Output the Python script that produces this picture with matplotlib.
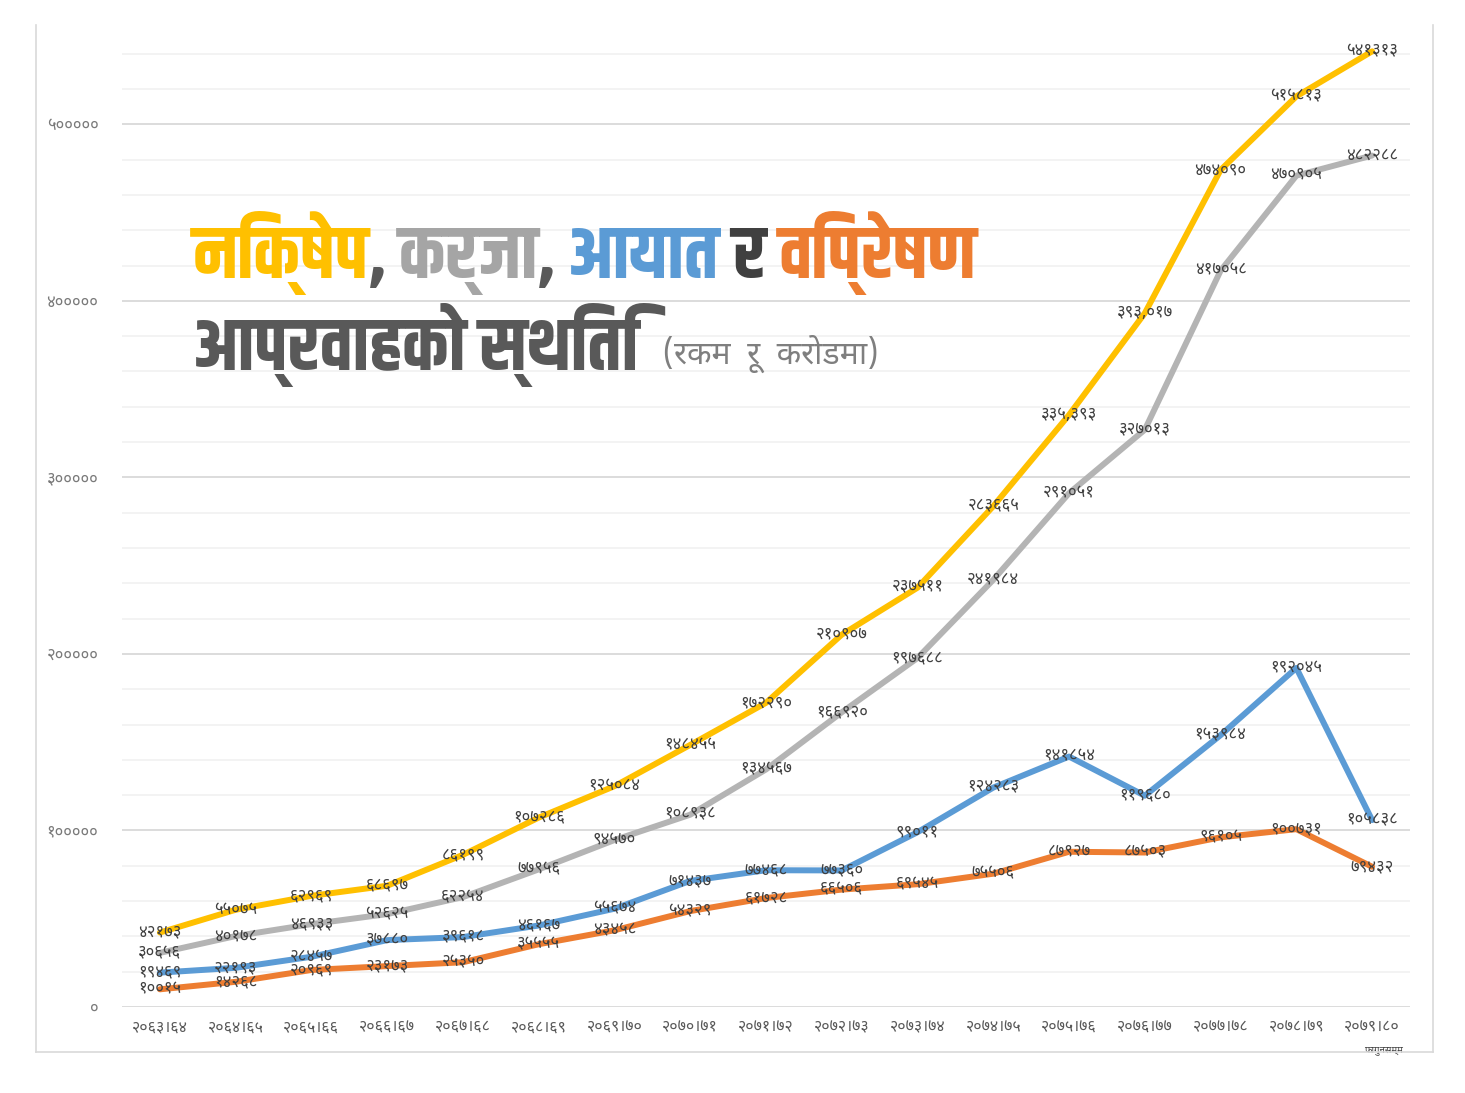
import matplotlib
matplotlib.use("Agg")
import matplotlib.pyplot as plt
from matplotlib.ticker import MultipleLocator, FixedLocator

# ---------------- data ----------------
years = ["२०६३।६४", "२०६४।६५", "२०६५।६६", "२०६६।६७", "२०६७।६८", "२०६८।६९",
         "२०६९।७०", "२०७०।७१", "२०७१।७२", "२०७२।७३", "२०७३।७४", "२०७४।७५",
         "२०७५।७६", "२०७६।७७", "२०७७।७८", "२०७८।७९", "२०७९।८०"]
last_note = "फागुनसम्म"

deposits = [42173, 55075, 62969, 68697, 86199, 107286, 125084, 148455, 172290,
            210907, 237511, 283665, 335393, 393017, 474090, 515813, 541313]
loans = [30656, 40178, 46933, 52625, 62254, 77956, 94570, 108938, 134567,
         166920, 197688, 241984, 291051, 327013, 417058, 470905, 482288]
imports = [19469, 22193, 28457, 37880, 39618, 46167, 55674, 71437, 77468,
           77360, 99011, 124283, 141854, 119680, 153984, 192045, 105838]
remittance = [10015, 14268, 20969, 23173, 25350, 35555, 43458, 54329, 61728,
              66506, 69545, 75506, 87927, 87503, 96105, 100731, 79432]
yticks = [0, 100000, 200000, 300000, 400000, 500000]
# labels shown with thousands separator in the original
comma_labels = {("deposits", 12), ("deposits", 13)}

series = [("deposits", deposits, "#FFC000"),
          ("loans", loans, "#B4B4B4"),
          ("imports", imports, "#5B9BD5"),
          ("remittance", remittance, "#ED7D31")]

DEV = str.maketrans("0123456789", "०१२३४५६७८९")
def dev(n, comma=False):
    s = f"{n:,}" if comma else f"{n}"
    return s.translate(DEV)

DEVA = ["Noto Sans Devanagari", "Mukta", "Annapurna SIL", "FreeSans", "DejaVu Sans"]
TITLE = ["Khand", "Teko", "FreeSans", "DejaVu Sans"]

W, H = 1465, 1093
fig = plt.figure(figsize=(W / 100, H / 100), dpi=100)
fig.patch.set_facecolor("white")

def fx(px): return px / W
def fy(py): return 1 - py / H

# outer frame (left, bottom, right)
fig.add_artist(plt.Line2D([fx(36), fx(36)], [fy(25), fy(1052)], color="#D9D9D9", lw=1.2))
fig.add_artist(plt.Line2D([fx(36), fx(1433)], [fy(1052), fy(1052)], color="#D9D9D9", lw=1.2))
fig.add_artist(plt.Line2D([fx(1433), fx(1433)], [fy(25), fy(1052)], color="#D9D9D9", lw=1.2))

ax = fig.add_axes([fx(122), fy(1007), fx(1410) - fx(122), fy(36) - fy(1007)])
x = list(range(len(years)))
ax.set_xlim(-0.5, len(years) - 0.5)
ax.set_ylim(0, 550000)

for s in ax.spines.values():
    s.set_visible(False)

# gridlines
ax.yaxis.set_major_locator(FixedLocator(yticks))
ax.yaxis.set_minor_locator(MultipleLocator(20000))
ax.grid(which="major", axis="y", color="#D9D9D9", lw=1.3, zorder=0)
ax.grid(which="minor", axis="y", color="#F0F0F0", lw=1.1, zorder=0)
ax.tick_params(which="both", length=0)
ax.set_yticks(yticks)
ax.set_yticklabels([dev(v) for v in yticks], fontsize=12, color="#7A7A7A", family=DEVA)
ax.tick_params(axis="y", pad=17)
ax.set_xticks(x)
ax.set_xticklabels(years, fontsize=11.5, color="#595959", family=DEVA)
ax.tick_params(axis="x", pad=9)
ax.text(x[-1] + 0.15, -0.040, last_note, transform=ax.get_xaxis_transform(),
        ha="center", va="top", fontsize=7, color="#404040", family=DEVA)

for name, vals, col in series:
    ax.plot(x, vals, color=col, lw=4.3, solid_joinstyle="round",
            solid_capstyle="round", zorder=3)
for name, vals, col in series:
    for i, v in enumerate(vals):
        ax.text(i, v, dev(v, (name, i) in comma_labels), ha="center", va="center",
                fontsize=12, color="#404040", family=DEVA, zorder=5)

# ---------------- title ----------------
fig.canvas.draw()
renderer = fig.canvas.get_renderer()

def seq_text(x0, y0, parts, size):
    cur = x0
    for txt, col, sz, dy in parts:
        t = fig.text(fx(cur), fy(y0 + dy), txt, color=col, fontsize=sz if sz else size,
                     fontweight="bold" if sz is None else "light",
                     family=TITLE if sz is None else DEVA, ha="left", va="baseline")
        bb = t.get_window_extent(renderer)
        cur += bb.width

line1 = [("निक्षेप", "#FFC000", None, 0), (", ", "#595959", None, 0),
         ("कर्जा", "#A5A5A5", None, 0), (", ", "#595959", None, 0),
         ("आयात", "#5B9BD5", None, 0), (" र ", "#404040", None, 0),
         ("विप्रेषण", "#ED7D31", None, 0)]
seq_text(193, 278, line1, 53)
line2 = [("आप्रवाहको स्थिति", "#595959", None, 0), ("   (रकम  रू  करोडमा)", "#7F7F7F", 23, -6)]
seq_text(193, 370, line2, 53)

fig.savefig("out.png", dpi=100, facecolor="white")
